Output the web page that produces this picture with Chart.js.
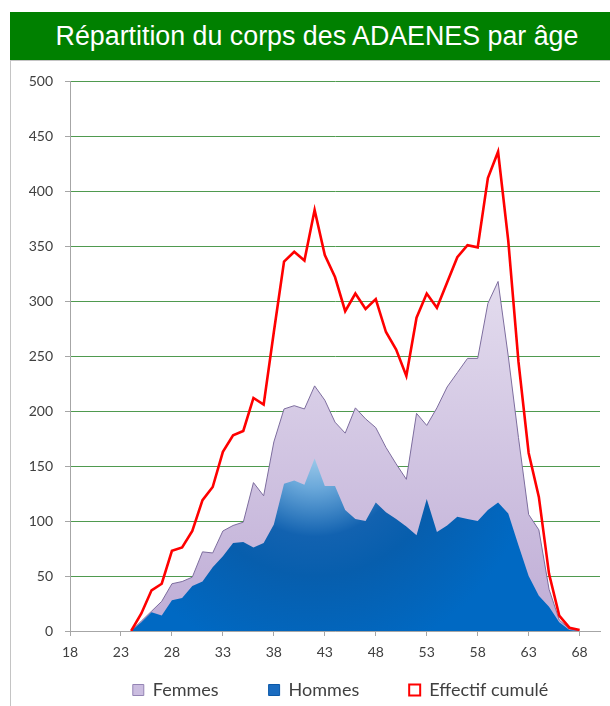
<!DOCTYPE html>
<html><head><meta charset="utf-8">
<script src="https://cdn.jsdelivr.net/npm/chart.js@4"></script>
<style>
html,body{margin:0;padding:0;background:#fff;}
#title{position:absolute;left:10px;top:12px;width:600px;height:48px;background:#008000;color:#fff;font-family:"Liberation Sans",Arial,sans-serif;font-size:26.8px;line-height:48px;text-align:center;padding-left:14px;box-sizing:border-box;white-space:nowrap;}
#frame{position:absolute;left:10px;top:60px;width:602px;height:648px;border:1px solid #c4c4c4;box-sizing:border-box;}
#wrap{position:absolute;left:11px;top:61px;width:599px;height:645px;}
</style></head><body>
<div id="title">Répartition du corps des ADAENES par âge</div>
<div id="frame"></div>
<div id="wrap"><canvas id="c"></canvas></div>
<script>
const ages = [18,19,20,21,22,23,24,25,26,27,28,29,30,31,32,33,34,35,36,37,38,39,40,41,42,43,44,45,46,47,48,49,50,51,52,53,54,55,56,57,58,59,60,61,62,63,64,65,66,67,68,69,70];
const tickLabels = ['18','23','28','33','38','43','48','53','58','63','68'];
const yTicks = [0,50,100,150,200,250,300,350,400,450,500];
const femmes = [null,null,null,null,null,null,
  0,9,18,27,43,45,49,72,71,91,96,99,135,123,172,202,205,202,223,210,190,180,203,193,185,167,152,138,198,187,203,222,235,248,248,298,318,250,176,106,92,38,10,2,0,
  null,null];
const hommes = [null,null,null,null,null,null,
  0,8,17,14,28,30,41,45,58,68,80,81,76,80,97,134,137,133,157,132,132,110,102,100,117,108,102,95,87,120,90,96,104,102,100,110,117,107,78,50,32,22,8,1,0,
  null,null];
const cumul = [null,null,null,null,null,null,
  0,16,37,43,73,76,91,119,131,163,178,182,212,206,272,336,345,337,383,342,322,291,307,293,302,272,256,232,285,307,294,317,340,351,349,412,436,355,245,162,122,52,14,3,1,
  null,null];
const seriesNames = ['Femmes','Hommes','Effectif cumulé'];

function purpleFill(ctx){
  const chart = ctx.chart, ca = chart.chartArea;
  if(!ca) return '#cdbfe0';
  const y = chart.scales.y;
  const g = chart.ctx.createLinearGradient(0, y.getPixelForValue(320), 0, y.getPixelForValue(0));
  g.addColorStop(0, '#e3dcee');
  g.addColorStop(1, '#bfadd6');
  return g;
}
function blueFill(ctx){
  const chart = ctx.chart, ca = chart.chartArea;
  if(!ca) return '#0a64b8';
  const cx = chart.scales.x.getPixelForValue(ages.indexOf(42));
  const cy = chart.scales.y.getPixelForValue(170);
  const g = chart.ctx.createRadialGradient(cx, cy, 0, cx, cy, 220);
  g.addColorStop(0, '#b3d8f0');
  g.addColorStop(0.2, '#6aa8da');
  g.addColorStop(0.42, '#1262b0');
  g.addColorStop(0.6, '#075ead');
  g.addColorStop(1, '#0069c3');
  return g;
}
const legendFill = ['#cbbde0','#1b6cc0','#ffffff'];
const legendStroke = ['#9484b4','#0b58a8','#ff0000'];
const legendLW = [1,1,2];

const legendShift = {
  id: 'legendShift',
  afterLayout(chart){
    const lg = chart.legend;
    if(!lg) return;
    const dx = 35, dy = -35;
    lg.left += dx; lg.right += dx;
    lg.top += dy; lg.bottom = chart.height;
    lg.height = lg.bottom - lg.top;
  }
};

new Chart(document.getElementById('c'), {
  type: 'line',
  data: {
    labels: ages,
    datasets: [
      {label: seriesNames[0], data: femmes, fill: 'origin', backgroundColor: purpleFill, borderColor: '#7d6d9e', borderWidth: 1, pointRadius: 0, tension: 0, order: 2},
      {label: seriesNames[1], data: hommes, fill: 'origin', backgroundColor: blueFill, borderColor: 'rgba(0,0,0,0)', borderWidth: 0, pointRadius: 0, tension: 0, order: 1},
      {label: seriesNames[2], data: cumul, fill: false, backgroundColor: '#ffffff', borderColor: '#ff0000', borderWidth: 2.6, pointRadius: 0, tension: 0, order: 0}
    ]
  },
  plugins: [legendShift],
  options: {
    responsive: true, maintainAspectRatio: false, animation: false,
    layout: {padding: {left: 0, right: 10, top: 19, bottom: 0}},
    plugins: {
      tooltip: {enabled: false},
      legend: {
        position: 'bottom', maxHeight: 40,
        labels: {
          font: {family: 'Lato', size: 18}, color: '#404040', boxWidth: 11, boxHeight: 11, padding: 50,
          generateLabels: (chart) => chart.data.datasets.map((d, i) => ({
            text: d.label, fillStyle: legendFill[i], strokeStyle: legendStroke[i], lineWidth: legendLW[i], datasetIndex: i, hidden: false, fontColor: '#404040'
          }))
        }
      }
    },
    scales: {
      x: {
        type: 'category',
        offset: false,
        afterFit: (s) => { s.height = 35; },
        border: {display: true, color: '#a6a6a6', width: 1},
        grid: {drawOnChartArea: false, drawTicks: true, tickLength: 5,
          tickColor: (c) => tickLabels.includes(String(ages[c.index])) ? '#a6a6a6' : 'rgba(0,0,0,0)'},
        ticks: {autoSkip: false, maxRotation: 0, minRotation: 0, padding: 8,
          font: {family: 'Lato', size: 14}, color: '#404040',
          callback: (v, i) => tickLabels.includes(String(ages[i])) ? String(ages[i]) : ''}
      },
      y: {
        min: 0, max: 500,
        afterFit: (s) => { s.width = 59; },
        afterBuildTicks: (s) => { s.ticks = yTicks.map(v => ({value: v})); },
        border: {display: true, color: '#a6a6a6', width: 1},
        grid: {color: (c) => c.tick && c.tick.value === 0 ? '#a6a6a6' : '#4f9a4f', lineWidth: 1, tickLength: 5, tickColor: '#a6a6a6'},
        ticks: {padding: 12, font: {family: 'Lato', size: 14}, color: '#404040'}
      }
    }
  }
});
</script>
</body></html>
